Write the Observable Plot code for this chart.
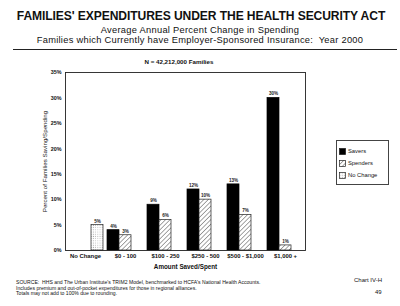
<!DOCTYPE html>
<html>
<head>
<meta charset="utf-8">
<script src="https://cdn.jsdelivr.net/npm/d3@7"></script>
<script src="https://cdn.jsdelivr.net/npm/@observablehq/plot@0.6"></script>
<style>
  html, body { margin: 0; padding: 0; background: #fff; }
  #page { position: relative; width: 400px; height: 306px; overflow: hidden; font-family: "Liberation Sans", Arial, sans-serif; color: #111; }
  #page svg.plot { position: absolute; left: 0; top: 0; }
  .abs { position: absolute; white-space: nowrap; }
  .title { left: 0; width: 402px; text-align: center; top: 9px; font-size: 12.1px; font-weight: bold; letter-spacing: -0.1px; }
  .sub { left: 0; width: 400px; text-align: center; font-size: 9.3px; letter-spacing: 0.28px; }
  .rule { left: 13px; width: 384px; top: 49px; height: 0; border-top: 1.2px solid #222; }
  .n { left: 0; width: 358px; text-align: center; top: 58px; font-size: 6.2px; font-weight: bold; }
  .legend { left: 336px; top: 140px; width: 53px; height: 45px; border: 1px solid #444; box-sizing: border-box; font-size: 5.8px; }
  .legend .row { position: absolute; left: 2px; height: 8px; display: flex; align-items: center; }
  .legend .sw { width: 7px; height: 7px; margin-right: 2px; }
  .foot { left: 16px; font-size: 5.1px; line-height: 5.5px; top: 280px; }
  .chart { left: 354px; top: 277px; font-size: 6px; }
  .pg { left: 375px; top: 289px; font-size: 6px; }
</style>
</head>
<body>
<svg width="0" height="0" style="position:absolute">
  <defs>
    <pattern id="hatch" width="3.2" height="3.2" patternUnits="userSpaceOnUse" patternTransform="rotate(45)">
      <rect width="3.2" height="3.2" fill="#fff"/>
      <line x1="0" y1="0" x2="0" y2="3.2" stroke="#222" stroke-width="0.8"/>
    </pattern>
    <pattern id="dots" width="2.2" height="2.2" patternUnits="userSpaceOnUse">
      <rect width="2.2" height="2.2" fill="#fff"/>
      <rect x="0.6" y="0.6" width="0.8" height="0.8" fill="#9a9a9a"/>
    </pattern>
  </defs>
</svg>
<div id="page">
  <div class="abs title">FAMILIES' EXPENDITURES UNDER THE HEALTH SECURITY ACT</div>
  <div class="abs sub" style="top:25px">Average Annual Percent Change in Spending</div>
  <div class="abs sub" style="top:35px">Families which Currently have Employer-Sponsored Insurance:&nbsp; Year 2000</div>
  <div class="abs rule"></div>
  <div class="abs n">N = 42,212,000 Families</div>
  <div class="abs legend" id="legend"></div>
  <div class="abs foot">SOURCE:&nbsp; HHS and The Urban Institute's TRIM2 Model, benchmarked to HCFA's National Health Accounts.<br>Includes premium and out-of-pocket expenditures for those in regional alliances.<br>Totals may not add to 100% due to rounding.</div>
  <div class="abs chart">Chart IV-H</div>
  <div class="abs pg">49</div>
</div>
<script>
// Amount saved/spent per family, percent of families in each bracket
const categories = ["No Change", "$0 - 100", "$100 - 250", "$250 - 500", "$500 - $1,000", "$1,000 +"];
const savers   = [null, 4, 9, 12, 13, 30];
const spenders = [null, 3, 6, 10, 7, 1];
const noChange = [5, null, null, null, null, null];
const yTicks = [0, 5, 10, 15, 20, 25, 30, 35];

const seriesNames = ["Savers", "Spenders", "No Change"];
const seriesFill = {"Savers": "#000", "Spenders": "url(#hatch)", "No Change": "url(#dots)"};

const rows = [];
categories.forEach((c, i) => {
  [[savers, "Savers"], [spenders, "Spenders"], [noChange, "No Change"]].forEach(([arr, s]) => {
    if (arr[i] != null) rows.push({category: c, series: s, value: arr[i]});
  });
});

// each category band holds three slots: Savers | Spenders | No Change
const slot = (s) => {
  const k = seriesNames.indexOf(s);
  return {insetLeft: 12 * k, insetRight: 12 * (2 - k)};
};

const barMarks = seriesNames.map(s => Plot.barY(rows.filter(d => d.series === s), {
  x: "category", y: "value", fill: seriesFill[s],
  stroke: s === "Savers" ? "#000" : "#222", strokeWidth: 0.7,
  ...slot(s)
}));
const labelMarks = seriesNames.map(s => Plot.text(rows.filter(d => d.series === s), {
  x: "category", y: "value", text: d => d.value + "%",
  dy: -4, dx: 12 * seriesNames.indexOf(s) - 12,
  fontSize: 4.6, fontWeight: "bold", fill: "#222"
}));

const chart = Plot.plot({
  width: 400, height: 306,
  marginLeft: 65, marginRight: 95, marginTop: 72, marginBottom: 56,
  style: {fontFamily: "Liberation Sans, Arial, sans-serif", background: "transparent", color: "#111"},
  x: {domain: categories, paddingInner: 0.1, paddingOuter: 0.05},
  y: {domain: [0, 35]},
  marks: [
    Plot.axisY(yTicks, {tickSize: 0, tickPadding: 4, tickFormat: d => d + "%", fontSize: 5.4, fontWeight: "bold", label: null}),
    Plot.text(["Percent of Families Saving/Spending"], {frameAnchor: "left", textAnchor: "middle", rotate: -90, dx: -20, fontSize: 6.2, fill: "#111"}),
    Plot.axisX({tickSize: 0, tickPadding: 3.5, fontSize: 5.9, fontWeight: "bold", label: null}),
    Plot.text(["Amount Saved/Spent"], {frameAnchor: "bottom", dy: 18, fontSize: 6.3, fontWeight: "bold", fill: "#111"}),
    ...barMarks,
    ...labelMarks,
    Plot.frame({stroke: "#222", strokeWidth: 0.9})
  ]
});
chart.classList.add("plot");
document.getElementById("page").prepend(chart);

// legend entries
const legend = document.getElementById("legend");
const svgNS = "http://www.w3.org/2000/svg";
seriesNames.forEach((s, i) => {
  const row = document.createElement("div");
  row.className = "row";
  row.style.top = (6 + i * 12) + "px";
  const sw = document.createElement("div");
  sw.className = "sw";
  const svg = document.createElementNS(svgNS, "svg");
  svg.setAttribute("width", 7); svg.setAttribute("height", 7);
  const r = document.createElementNS(svgNS, "rect");
  r.setAttribute("x", 0.4); r.setAttribute("y", 0.4); r.setAttribute("width", 6.2); r.setAttribute("height", 6.2);
  r.setAttribute("fill", seriesFill[s]); r.setAttribute("stroke", "#222"); r.setAttribute("stroke-width", 0.7);
  svg.appendChild(r);
  sw.appendChild(svg);
  row.appendChild(sw);
  row.appendChild(document.createTextNode(s));
  legend.appendChild(row);
});
</script>
</body>
</html>
